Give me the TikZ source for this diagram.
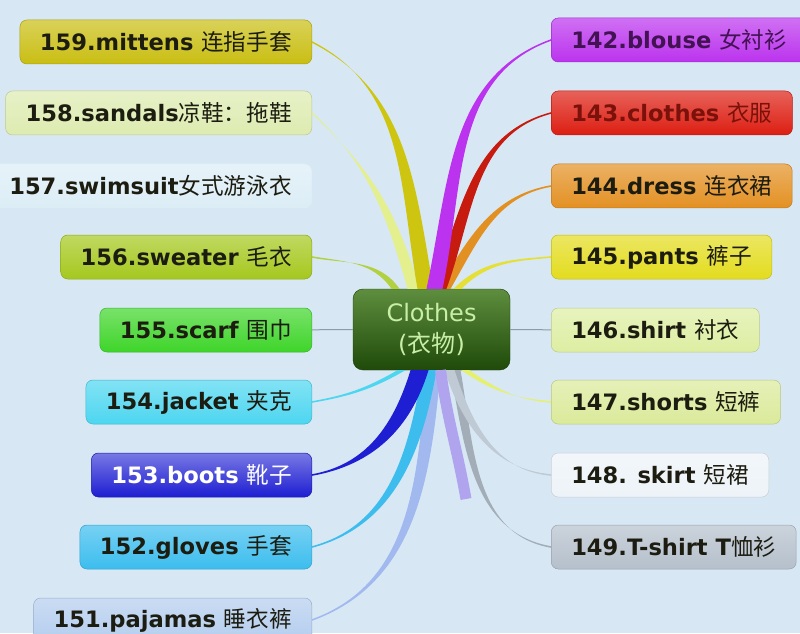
\documentclass[tikz,border=0pt]{standalone}
\usepackage{fontspec}
\setmainfont{DejaVu Sans}
\newfontfamily\cjk{Noto Sans CJK SC}
\usetikzlibrary{calc}

\definecolor{bgblue}{HTML}{D7E8F4}
\definecolor{ink}{HTML}{1C1C10}
\definecolor{hubtop}{HTML}{5E8E3E}
\definecolor{hubbot}{HTML}{1F4A0A}
\definecolor{hubtext}{HTML}{C8EEA8}
\definecolor{mittensc}{HTML}{C9BE12}
\definecolor{sandalsc}{HTML}{DDEBB0}
\definecolor{swimc}{HTML}{DCEDF6}
\definecolor{sweaterc}{HTML}{A5C81E}
\definecolor{scarfc}{HTML}{3FD52A}
\definecolor{jacketc}{HTML}{4DD6F0}
\definecolor{bootsc}{HTML}{1E1ED2}
\definecolor{glovesc}{HTML}{3CBDEE}
\definecolor{pajamac}{HTML}{B4CDEE}
\definecolor{blousec}{HTML}{BB33EE}
\definecolor{clothesc}{HTML}{DD1E12}
\definecolor{dressc}{HTML}{E39022}
\definecolor{pantsc}{HTML}{E3DC1E}
\definecolor{shirtc}{HTML}{DDEEA2}
\definecolor{shortsc}{HTML}{DAEA9A}
\definecolor{skirtc}{HTML}{EDF3F8}
\definecolor{tshirtc}{HTML}{B5C0CC}
\definecolor{stubc}{HTML}{B0A4EE}
\definecolor{linkc}{HTML}{8C9CA6}

\newcommand\leaffont{\fontsize{22.6}{26}\selectfont\bfseries}
\newcommand\zh[1]{{\cjk\mdseries #1}}
% tapered branch: colour, hub anchor, x offset, leaf anchor, out, in, half width
\newcommand\twig[7]{%
  \fill[#1] ($(#2)+(#3-#7,0)$) to[out=#5,in=#6] ($(#4)+(0,0.8)$)
    -- ($(#4)+(0,-0.8)$) to[out=#6,in=#5] ($(#2)+(#3+#7,0)$) -- cycle;}

\tikzset{
  leaf/.style={rounded corners=7pt, minimum height=44pt, inner xsep=20pt,
    inner ysep=0pt, top color=#1!70!white, bottom color=#1,
    draw=#1!85!black, line width=0.5pt, text=ink, font=\leaffont},
  hub/.style={rounded corners=10pt, minimum width=157pt, minimum height=81pt,
    top color=hubtop, bottom color=hubbot, draw=hubbot!80!black,
    text=hubtext, align=center, font=\fontsize{24}{31}\selectfont},
  link/.style={draw=linkc, line width=1pt}
}

\begin{document}
\begin{tikzpicture}[x=1pt,y=1pt]
  \fill[bgblue] (0,0) rectangle (800,633);
  \useasboundingbox (0,0) rectangle (800,633);

  \node[hub] (hub) at (431.5,303.5) {Clothes\\(\zh{衣物})};

  % left side
  \node[leaf=mittensc, anchor=east] (mittens) at (312,591) {159.mittens \zh{连指手套}};
  \node[leaf=sandalsc, anchor=east] (sandals) at (312,520) {158.sandals\zh{凉鞋：拖鞋}};
  \node[leaf=swimc, draw=swimc, anchor=east] (swimsuit) at (312,447) {157.swimsuit\zh{女式游泳衣}};
  \node[leaf=sweaterc, anchor=east] (sweater) at (312,376) {156.sweater \zh{毛衣}};
  \node[leaf=scarfc, anchor=east] (scarf) at (312,303) {155.scarf \zh{围巾}};
  \node[leaf=jacketc, anchor=east] (jacket) at (312,231) {154.jacket \zh{夹克}};
  \node[leaf=bootsc, top color=bootsc!60!white, text=white, anchor=east] (boots) at (312,158) {153.boots \zh{靴子}};
  \node[leaf=glovesc, anchor=east] (gloves) at (312,86) {152.gloves \zh{手套}};
  \node[leaf=pajamac, anchor=east] (pajamas) at (312,13) {151.pajamas \zh{睡衣裤}};

  % right side
  \node[leaf=blousec, text=blousec!35!black, anchor=west] (blouse) at (551,593) {142.blouse \zh{女衬衫}};
  \node[leaf=clothesc, text=clothesc!55!black, anchor=west] (clothes) at (551,520) {143.clothes \zh{衣服}};
  \node[leaf=dressc, anchor=west] (dress) at (551,447) {144.dress \zh{连衣裙}};
  \node[leaf=pantsc, anchor=west] (pants) at (551,376) {145.pants \zh{裤子}};
  \node[leaf=shirtc, anchor=west] (shirt) at (551,303) {146.shirt \zh{衬衣}};
  \node[leaf=shortsc, anchor=west] (shorts) at (551,231) {147.shorts \zh{短裤}};
  \node[leaf=skirtc, draw=skirtc!85!black, anchor=west] (skirt) at (551,158) {148. skirt \zh{短裙}};
  \node[leaf=tshirtc, anchor=west] (tshirt) at (551,86) {149.T-shirt T\zh{恤衫}};

  % branches above the hub
  \twig{sweaterc!85!white}{hub.north}{-36}{sweater.east}{125}{-10}{4}
  \twig{sandalsc!80!yellow}{hub.north}{-18}{sandals.east}{106}{-43}{6}
  \twig{mittensc!90!yellow}{hub.north}{-6}{mittens.east}{100}{-27}{8}
  \twig{pantsc!90!white}{hub.north}{26}{pants.west}{45}{185}{4}
  \twig{dressc}{hub.north}{13}{dress.west}{60}{190}{6}
  \twig{clothesc!90!black}{hub.north}{8}{clothes.west}{70}{195}{7}
  \twig{blousec}{hub.north}{3}{blouse.west}{78}{200}{8}

  % branches below the hub
  \twig{jacketc}{hub.south}{-30}{jacket.east}{-150}{10}{4}
  \twig{pajamac!90!blue}{hub.south}{2}{pajamas.east}{-95}{20}{7}
  \twig{glovesc}{hub.south}{-2}{gloves.east}{-100}{15}{7}
  \twig{bootsc}{hub.south}{-12}{boots.east}{-107}{10}{9}
  \twig{shortsc!70!yellow}{hub.south}{34}{shorts.west}{-35}{175}{4}
  \twig{tshirtc!90!black}{hub.south}{24}{tshirt.west}{-80}{170}{5}
  \twig{tshirtc!80!skirtc}{hub.south}{18}{skirt.west}{-72}{175}{5}
  \coordinate (stub) at (466,134);
  \draw[stubc, line width=11pt] ($(hub.south)+(9,0)$) to[out=-82,in=100] (stub);

  % straight links
  \draw[link] (scarf) -- (hub);
  \draw[link] (hub) -- (shirt);
\end{tikzpicture}
\end{document}
